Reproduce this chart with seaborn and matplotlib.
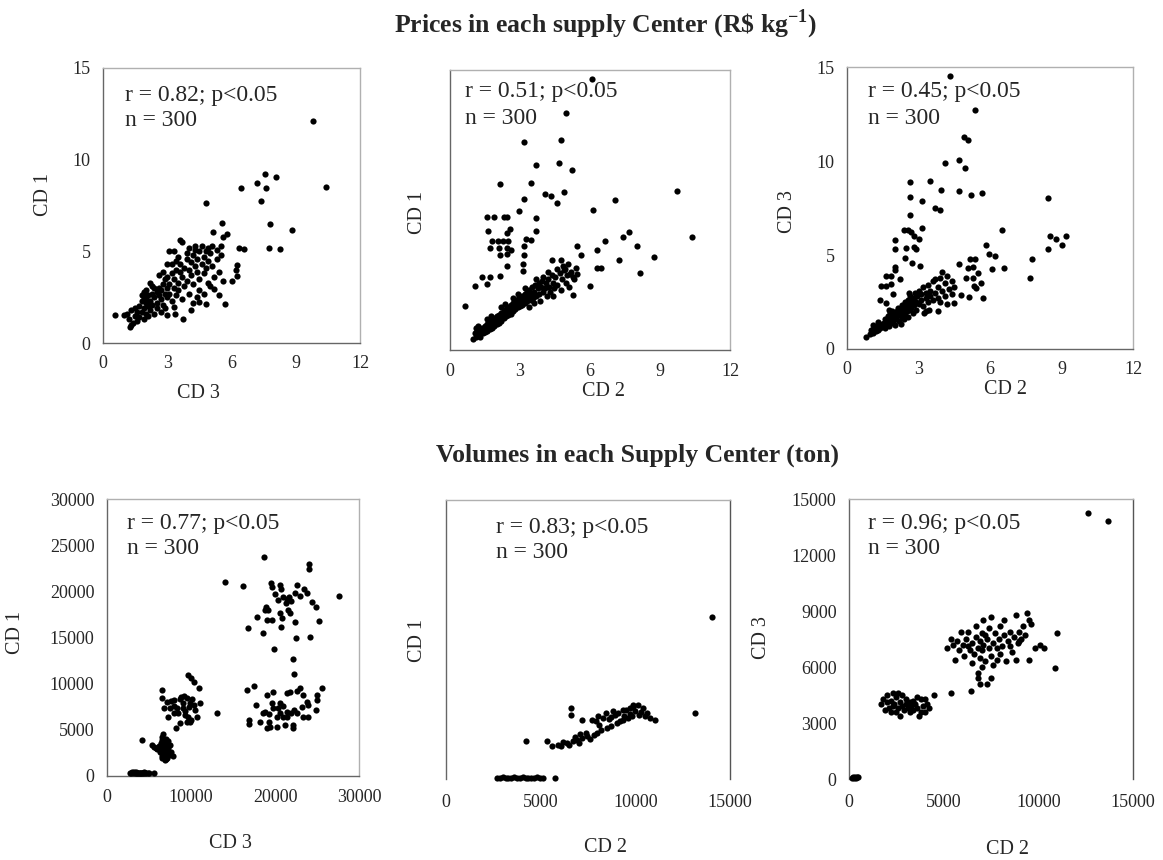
import numpy as np
import pandas as pd
import matplotlib
matplotlib.use("Agg")
import matplotlib.pyplot as plt
import seaborn as sns

# ---------------- data ----------------
# Panel 1: prices, CD 3 (x) vs CD 1 (y)
p1_x = [9.8, 10.4, 7.56, 8.1, 7.2, 6.44, 7.6, 7.37, 4.8, 7.78, 8.83, 5.57, 5.13, 5.79, 7.75, 8.27, 6.36, 6.6, 6.25, 6.22, 6.25, 6.02, 5.68, 5.16, 4.46, 4.82, 4.1, 3.72, 2.99, 3.37, 3.3, 1.0, 1.28, 0.58,
        1.1, 1.2, 1.3, 1.4, 1.5, 1.3, 1.5, 1.6, 1.6,
        1.7, 1.7, 1.8, 1.8, 1.9, 1.9, 2.0, 2.0, 1.8, 1.9, 2.0, 1.9, 2.0,
        2.1, 2.1, 2.2, 2.2, 2.3, 2.3, 2.4, 2.4, 2.5, 2.5, 2.2, 2.4, 2.5, 2.1, 2.3,
        2.6, 2.6, 2.7, 2.7, 2.8, 2.8, 2.9, 2.9, 3.0, 3.0, 2.6, 2.8, 3.0, 2.7, 2.9, 3.0,
        3.1, 3.1, 3.2, 3.2, 3.3, 3.3, 3.4, 3.4, 3.5, 3.5, 3.1, 3.3, 3.2, 3.4, 3.5,
        3.6, 3.6, 3.7, 3.7, 3.8, 3.8, 3.9, 3.9, 4.0, 4.0, 3.6, 4.0, 3.7, 3.9,
        4.1, 4.1, 4.2, 4.2, 4.3, 4.3, 4.4, 4.4, 4.5, 4.5, 4.2, 4.4, 4.3, 4.5,
        4.6, 4.6, 4.7, 4.7, 4.8, 4.8, 4.9, 4.9, 5.0, 5.0, 4.7, 4.9,
        5.1, 5.1, 5.2, 5.3, 5.3, 5.4, 5.5, 5.5, 5.6, 5.6, 5.4]
p1_y = [12.1, 8.5, 9.2, 9.07, 8.74, 8.43, 8.43, 7.74, 7.65, 6.48, 6.16, 6.56, 6.07, 5.94, 5.19, 5.12, 5.19, 5.12, 4.24, 3.97, 3.64, 3.37, 2.15, 2.97, 2.24, 2.15, 1.82, 1.33, 1.51, 1.6, 1.97, 1.55, 0.87, 1.55,
        1.6, 1.3, 1.8, 1.1, 1.5, 1.0, 1.9, 1.2, 1.7,
        2.0, 1.4, 2.3, 1.7, 2.5, 1.9, 2.2, 1.6, 2.6, 2.8, 2.4, 1.3, 2.9,
        2.0, 2.6, 2.3, 1.8, 2.7, 2.1, 2.5, 3.0, 2.2, 2.8, 3.3, 1.6, 1.9, 1.5, 3.1,
        2.6, 3.0, 2.4, 2.9, 3.2, 2.1, 2.7, 3.5, 3.0, 2.5, 3.7, 3.9, 4.3, 1.7, 1.9, 3.6,
        3.2, 2.7, 3.8, 4.3, 3.0, 3.5, 4.0, 2.6, 3.3, 4.7, 5.0, 5.0, 2.3, 4.5, 2.9,
        3.9, 4.3, 3.6, 5.5, 4.1, 3.1, 4.6, 3.4, 4.0, 5.2, 5.6, 2.7, 2.4, 4.9,
        4.4, 3.7, 4.8, 3.2, 5.1, 4.2, 3.9, 4.6, 5.0, 3.5, 2.2, 2.5, 5.3, 2.9,
        4.3, 5.3, 3.8, 4.7, 5.0, 4.1, 3.3, 4.5, 4.9, 3.1, 2.7, 5.2,
        4.2, 5.3, 3.6, 4.6, 5.1, 3.9, 5.3, 4.8, 5.8, 3.4, 2.6]

# Panel 2: prices, CD 2 (x) vs CD 1 (y)
p2_x = [1.0, 1.05, 1.1, 1.15, 1.2, 1.25, 1.3, 1.3, 1.35, 1.4, 1.45, 1.5, 1.5, 1.2, 1.1,
        1.55, 1.6, 1.6, 1.65, 1.7, 1.7, 1.75, 1.8, 1.8, 1.85, 1.9, 1.9, 1.95, 2.0, 2.0, 1.75, 1.6,
        2.05, 2.1, 2.1, 2.15, 2.2, 2.2, 2.25, 2.3, 2.3, 2.35, 2.4, 2.4, 2.45, 2.5, 2.5, 2.2, 2.35,
        2.55, 2.6, 2.6, 2.65, 2.7, 2.7, 2.75, 2.8, 2.8, 2.85, 2.9, 2.9, 2.95, 3.0, 3.0, 2.7, 2.9,
        3.05, 3.1, 3.1, 3.15, 3.2, 3.2, 3.25, 3.3, 3.3, 3.35, 3.4, 3.45, 3.5, 3.5, 3.2, 3.4,
        3.55, 3.6, 3.65, 3.7, 3.75, 3.8, 3.8, 3.85, 3.9, 3.95, 4.0, 4.0, 3.7, 3.6,
        4.05, 4.1, 4.15, 4.2, 4.25, 4.3, 4.35, 4.4, 4.45, 4.5, 4.2, 4.4,
        4.6, 4.7, 4.75, 4.8, 4.9, 4.95, 5.0, 5.1, 5.2, 5.3, 4.85, 5.05,
        6.07, 4.97, 3.17, 4.74, 3.67, 4.66, 5.24, 2.14, 3.46, 4.06, 4.33, 4.57, 4.89, 3.17, 2.94, 6.11, 7.09, 9.71, 10.36, 3.69, 3.69, 3.26, 3.46, 3.17,
        1.6, 1.89, 2.31, 2.46, 1.64, 2.57, 2.43, 1.79, 2.07, 2.29, 2.5, 1.71, 2.11, 2.43, 2.6, 2.14, 2.43, 2.43, 2.14, 1.71, 1.36, 1.07, 1.57, 0.64, 3.17, 3.14, 3.14,
        5.43, 6.29, 6.66, 7.43, 7.66, 8.0, 7.24, 8.14, 8.76, 5.63, 6.29, 6.46, 6.01, 5.26, 4.36, 4.74, 4.57, 4.94, 5.39, 5.43, 5.14, 5.29]
p2_y = [0.6, 0.9, 0.7, 1.0, 0.8, 1.1, 0.7, 1.0, 1.2, 0.9, 1.1, 1.3, 0.95, 1.3, 1.2,
        1.1, 1.4, 1.0, 1.25, 1.5, 1.15, 1.35, 1.6, 1.2, 1.45, 1.7, 1.3, 1.55, 1.8, 1.4, 1.8, 1.65,
        1.6, 1.9, 1.45, 1.75, 2.0, 1.55, 1.85, 2.1, 1.7, 1.95, 2.2, 1.8, 2.05, 2.3, 1.9, 2.3, 2.45,
        2.1, 2.4, 1.95, 2.25, 2.5, 2.1, 2.35, 2.6, 2.2, 2.45, 2.75, 2.3, 2.55, 2.8, 2.35, 2.8, 3.0,
        2.6, 2.9, 2.4, 2.7, 3.0, 2.5, 2.8, 3.1, 2.6, 2.9, 3.2, 2.7, 3.0, 3.4, 3.3, 2.3,
        2.8, 3.1, 3.5, 2.9, 3.3, 3.6, 3.0, 2.6, 3.4, 3.7, 3.1, 3.9, 3.8, 2.5,
        3.3, 3.6, 2.9, 3.8, 3.4, 3.1, 4.0, 3.6, 3.3, 3.9, 4.2, 2.9,
        3.5, 4.1, 3.2, 3.8, 4.3, 3.6, 4.0, 3.4, 4.2, 3.8, 4.5, 4.6,
        14.5, 12.7, 11.15, 11.27, 9.9, 10.0, 9.66, 8.88, 8.94, 8.35, 8.23, 7.88, 8.48, 8.09, 7.43, 7.5, 8.04, 8.5, 6.04, 7.08, 6.37, 5.93, 5.88, 5.56,
        7.1, 7.1, 7.1, 7.1, 6.37, 6.46, 6.25, 5.84, 5.84, 5.84, 5.84, 5.45, 5.45, 5.45, 5.35, 5.1, 5.13, 4.5, 3.98, 3.9, 3.9, 3.45, 3.54, 2.34, 5.1, 4.6, 4.25,
        5.58, 5.35, 5.84, 6.07, 6.34, 5.56, 4.81, 4.1, 4.96, 5.1, 4.37, 4.37, 3.45, 2.92, 4.81, 4.81, 4.34, 4.34, 4.4, 4.07, 4.07, 3.9]

# Panel 3: prices, CD 2 (x) vs CD 3 (y)
p3_x = [0.8, 0.95, 1.0, 1.1, 1.15, 1.2, 1.25, 1.3, 1.35, 1.4, 1.45, 1.5, 1.1, 1.3,
        1.55, 1.6, 1.6, 1.65, 1.7, 1.7, 1.75, 1.8, 1.8, 1.85, 1.9, 1.9, 1.95, 2.0, 2.0, 1.75,
        2.05, 2.1, 2.1, 2.15, 2.2, 2.2, 2.25, 2.3, 2.3, 2.35, 2.4, 2.4, 2.45, 2.5, 2.5, 2.25, 2.45,
        2.55, 2.6, 2.6, 2.65, 2.7, 2.7, 2.75, 2.8, 2.8, 2.85, 2.9, 2.9, 2.95, 3.0, 3.0, 2.6, 2.55,
        3.1, 3.1, 3.2, 3.2, 3.3, 3.3, 3.4, 3.4, 3.5, 3.5, 3.6, 3.6, 3.25, 3.45,
        3.7, 3.8, 3.8, 3.9, 3.9, 4.0, 4.1, 4.1, 4.2, 4.3, 4.4, 4.4, 4.5, 4.2, 3.7, 4.0,
        4.31, 5.36, 4.9, 5.08, 4.1, 4.7, 4.94, 2.66, 3.5, 3.96, 4.7, 5.22, 5.68, 3.16, 2.66, 3.68, 3.89, 2.63, 3.13, 2.4, 2.55, 2.69, 2.83, 3.02, 2.0, 2.0, 2.49, 2.8, 2.88, 2.43, 2.74, 3.05, 2.0, 2.0, 1.65, 1.86, 2.21, 1.44, 1.65, 1.86, 1.37, 1.93, 1.62,
        8.45, 8.5, 8.75, 9.03, 9.2, 8.45, 7.78, 7.66, 6.5, 5.82, 5.96, 6.2, 6.1, 6.59, 5.71, 4.7, 5.15, 5.36, 5.08, 5.29, 5.5, 5.01, 5.29, 5.64, 5.43, 4.77, 5.12, 5.31, 4.49, 3.82, 3.33]
p3_y = [0.65, 0.8, 1.0, 0.85, 1.15, 0.95, 1.2, 1.0, 1.3, 1.1, 1.35, 1.2, 1.25, 1.45,
        1.4, 1.1, 1.6, 1.3, 1.75, 1.45, 1.2, 1.6, 1.9, 1.4, 1.7, 2.0, 1.5, 1.85, 1.3, 2.05,
        1.6, 2.0, 1.75, 2.2, 1.5, 1.9, 2.1, 1.7, 2.35, 1.95, 2.2, 1.6, 2.5, 2.0, 2.3, 1.35, 1.8,
        2.6, 2.1, 2.4, 2.8, 2.2, 2.55, 1.9, 2.7, 2.35, 3.0, 2.5, 2.1, 2.8, 2.4, 3.1, 3.0, 1.7,
        2.6, 2.9, 3.3, 2.3, 2.7, 3.0, 2.5, 3.4, 2.8, 3.1, 2.6, 3.6, 1.9, 2.1,
        3.0, 2.7, 3.3, 3.8, 2.5, 3.1, 2.8, 3.5, 3.9, 3.2, 2.9, 3.6, 3.3, 2.4, 3.7, 4.1,
        14.5, 12.7, 11.26, 11.13, 9.9, 10.04, 9.63, 8.87, 8.92, 8.44, 8.42, 8.21, 8.3, 7.89, 8.07, 7.5, 7.41, 7.11, 6.44, 6.35, 6.35, 6.22, 6.0, 5.85, 5.82, 5.32, 5.39, 5.42, 5.3, 4.84, 4.57, 4.4, 4.34, 4.2, 3.87, 3.87, 3.73, 3.33, 3.37, 3.48, 2.62, 2.93, 2.45,
        8.03, 6.03, 5.85, 5.53, 6.03, 5.32, 4.79, 3.78, 6.35, 5.55, 5.05, 4.93, 4.26, 4.31, 2.71, 4.54, 4.79, 4.79, 4.31, 4.37, 4.05, 3.78, 3.78, 3.51, 3.24, 2.87, 2.75, 3.33, 2.45, 2.0, 2.0]

# Panel 4: volumes, CD 3 (x) vs CD 1 (y)
p4_x = [2700, 2850, 3000, 3150, 3300, 3400, 3500, 3600, 3700, 3800, 3900, 4000, 4100, 4250, 4400, 4550, 4700, 4850, 5000, 5650, 3200, 4300,
        4150,
        5400, 5600, 5800, 6000, 6200, 6300, 6400, 6500, 6600, 6600, 6700, 6700, 6800, 6800, 6900, 6900, 7000, 7000, 7100, 7100, 7200, 7200, 7300, 7400, 7500, 7600, 7800, 6500, 6300, 6900, 7050, 6600, 7300,
        6530, 6530, 6730, 7130, 7920, 8710, 7520, 8320, 9030, 8710, 7920, 9310, 9700, 9980, 10300, 11010, 11090, 9500, 9900, 10490, 10690, 9900, 13150,
        8000, 8500, 9000, 9300, 9600, 9800, 10000, 9500, 8800, 9200, 10100, 10400, 7600, 7300, 8200,
        16630, 17500, 17740, 16950, 16950, 18220, 19010, 19400, 19250, 20200, 21190, 22100, 22180, 19320, 19800, 20590, 20910, 19010, 19720, 21380, 21780, 22570, 22970, 23280, 21860, 22260, 22570, 23170, 23760, 23960, 23960, 24870, 24950, 25540, 24950, 23280, 18810, 18610, 20390, 20990, 21380, 20200, 19600, 21380, 20590,
        19480, 19600, 20590, 20710, 22570, 23440, 22970, 24350, 24870, 25260, 24160, 22490, 22370, 21780, 21270, 21460, 20910, 20390, 20000, 19210, 18930, 18810, 19010, 18530, 16830, 17820, 19600, 20590, 20790, 20670, 21700, 21860, 21580, 23760, 22370,
        14100, 16160, 18700, 24080, 24000, 27640, 22100, 22250, 19880]
p4_y = [350, 300, 380, 320, 360, 300, 390, 330, 350, 300, 370, 320, 360, 300, 380, 330, 350, 310, 360, 300, 400, 280,
        3950,
        3400, 3100, 3000, 2900, 3300, 2600, 3600, 2200, 2800, 4200, 4600, 3100, 2500, 1900, 3500, 2200, 2900, 4000, 2400, 3300, 2000, 2700, 3000, 2300, 3400, 2600, 2200, 3900, 3100, 1700, 1800, 2000, 3800,
        9310, 8410, 7330, 8050, 8230, 8300, 7330, 7330, 7330, 5700, 6790, 6600, 10940, 10580, 10220, 9490, 7870, 8410, 7940, 7150, 6430, 5880, 6860,
        7600, 6800, 7900, 7000, 6400, 7500, 6100, 5800, 8600, 8700, 8300, 7700, 8100, 6400, 5200,
        9310, 9750, 7690, 6060, 5630, 5880, 5160, 5340, 5880, 5340, 5520, 5520, 5160, 6710, 7330, 7940, 7580, 8770, 9130, 8950, 9130, 9240, 9490, 8770, 6790, 7150, 6790, 7510, 8050, 7690, 6430, 7150, 8770, 9490, 8230, 6360, 6970, 6790, 7330, 6430, 6430, 6360, 7870, 6970, 6790,
        20940, 20500, 20690, 20220, 20690, 20220, 19490, 18880, 18340, 16820, 15090, 14910, 16710, 17620, 18770, 19170, 19420, 19060, 19670, 17980, 18340, 17980, 16890, 15450, 15990, 17260, 16890, 17620, 17080, 16170, 19420, 18990, 17980, 19780, 19780,
        20970, 20610, 23750, 22920, 22420, 19530, 12640, 11010, 13720]

# Panel 5: volumes, CD 2 (x) vs CD 1 (y)
p5_x = [2700, 2850, 3000, 3150, 3300, 3450, 3600, 3750, 3900, 4050, 4200, 4350, 4500, 4650, 4800, 4950, 5100, 5770,
        4220, 5320, 5580, 6580, 6580,
        5930, 6100, 6370, 6500, 6700, 6900, 7000, 7200, 7430, 7600, 7800, 7960, 8200, 8480, 8700, 9010, 9200, 9360, 9600, 9800,
        7160, 7690, 8040, 8450, 8830, 9360, 9720, 9890, 10160, 10420, 10600, 11040,
        7400, 7900, 8300, 8600, 8900, 9100, 9400, 9500, 9700, 10000, 10200, 10300, 10500, 10800, 6200, 6800, 7100, 8100, 9900, 8700,
        13150, 14060]
p5_y = [150, 120, 180, 140, 160, 130, 170, 150, 120, 180, 150, 130, 160, 140, 170, 120, 150, 80,
        4050, 4050, 3510, 7630, 6900,
        3690, 3500, 3870, 3700, 4100, 4220, 3900, 4400, 4580, 4300, 4700, 4940, 5300, 5480, 5700, 6010, 6200, 6370, 6600, 6800,
        6300, 6370, 6730, 7090, 7270, 7450, 7630, 7980, 7980, 7630, 7090, 6300,
        4900, 6200, 6600, 6400, 6900, 7100, 6800, 7400, 7000, 7300, 6900, 7200, 6800, 6600, 4000, 4500, 4800, 5800, 7700, 6700,
        7090, 17400]

# Panel 6: volumes, CD 2 (x) vs CD 3 (y)
p6_x = [150, 200, 250, 300, 350, 420, 480,
        1700, 1800, 1900, 2000, 2000, 2100, 2200, 2300, 2300, 2400, 2500, 2500, 2600, 2700, 2700, 2800, 2800, 2900, 3000, 3000, 3100, 3200, 3200, 3300, 3400, 3400, 3500, 3600, 3700, 3800, 3800, 3900, 4000, 4000, 4100, 4200, 4500, 2200, 3600, 2600,
        5370, 6470, 6800, 6800, 6900, 7300, 7500,
        5200, 5400, 5500, 5600, 5700, 5800, 5900, 6000, 6100, 6200, 6300, 6400, 6500, 6600, 6700, 6700, 6800, 6900, 6900, 7000, 7000, 7100, 7100, 7200, 7300, 7400, 7400, 7500, 7500, 7600, 7600, 7700, 7800, 7800, 7900, 8000, 8000, 8100, 8200, 8200, 8300, 8400, 8500, 8600, 8700, 8800, 8800, 8900, 9000, 9100, 9200, 9300, 9400, 9500, 9500, 9600, 9800, 10100, 10300, 10870, 10960, 6500, 7000, 6300, 7200, 8500, 9000,
        12630, 13690]
p6_y = [80, 120, 60, 100, 70, 110, 90,
        4000, 4300, 3700, 4100, 4500, 3800, 4200, 3900, 4600, 4000, 4400, 3600, 3800, 4100, 3400, 3900, 4500, 3700, 4000, 4300, 3800, 4100, 3600, 3900, 4200, 3700, 4000, 3800, 3400, 4300, 3600, 3900, 4300, 3600, 4000, 3800, 4500, 3600, 4400, 4600,
        4600, 4690, 5700, 5400, 5100, 5100, 5400,
        7000, 7500, 7200, 6400, 7400, 6900, 7900, 7200, 6600, 7500, 7900, 6900, 7300, 6700, 8200, 7600, 7000, 7400, 6500, 7800, 6900, 8500, 7200, 6300, 7500, 7000, 8100, 8700, 6600, 7300, 6100, 7800, 7000, 6400, 7500, 8200, 6700, 7100, 8500, 7700, 6300, 7400, 7900, 6800, 7600, 8800, 6400, 7300, 7900, 7500, 8200, 7700, 8900, 8500, 6400, 8300, 7000, 7200, 7000, 5940, 7810, 6200, 6000, 7100, 7700, 7100, 7400,
        14270, 13840]

titles = [r"Prices in each supply Center (R\$ kg$^{\mathbf{-1}}$)", "Volumes in each Supply Center (ton)"]
stats = ["r = 0.82; p<0.05", "r = 0.51; p<0.05", "r = 0.45; p<0.05",
         "r = 0.77; p<0.05", "r = 0.83; p<0.05", "r = 0.96; p<0.05"]
n_text = "n = 300"
x_labels = ["CD 3", "CD 2", "CD 2", "CD 3", "CD 2", "CD 2"]
y_labels = ["CD 1", "CD 1", "CD 3", "CD 1", "CD 1", "CD 3"]

price_xticks = [0, 3, 6, 9, 12]
price_yticks = [0, 5, 10, 15]
p4_ticks_x = [0, 10000, 20000, 30000]
p4_ticks_y = [0, 5000, 10000, 15000, 20000, 25000, 30000]
p5_ticks_x = [0, 5000, 10000, 15000]
p5_ticks_y = [0, 5000, 10000, 15000, 20000, 25000, 30000]
p6_ticks_x = [0, 5000, 10000, 15000]
p6_ticks_y = [0, 3000, 6000, 9000, 12000, 15000]

# ---------------- styling ----------------
sns.set_style("white")
plt.rcParams['font.family'] = ['Liberation Serif', 'DejaVu Serif']
plt.rcParams['mathtext.fontset'] = 'custom'
plt.rcParams['mathtext.rm'] = 'Liberation Serif'
plt.rcParams['mathtext.bf'] = 'Liberation Serif:bold'

W, H = 1163, 860
fig = plt.figure(figsize=(W / 100, H / 100), dpi=100)
fig.patch.set_facecolor('white')

def rect(l, t, r, b):
    return [l / W, 1 - b / H, (r - l) / W, (b - t) / H]

def fx(px):
    return px / W

def fy(py):
    return 1 - py / H

panels = [
    dict(x=p1_x, y=p1_y, r=rect(103, 68, 360, 343), xl=(0, 12), yl=(0, 15), xt=price_xticks, yt=price_yticks, ylab=True, bottom=True,
         txt=(125, 95), xlab=(198, 393), ylab_pos=(44, 195), xpad=9),
    dict(x=p2_x, y=p2_y, r=rect(450, 70, 730, 350), xl=(0, 12), yl=(0, 15), xt=price_xticks, yt=price_yticks, ylab=False, bottom=True,
         txt=(465, 92), xlab=(604, 391), ylab_pos=(417, 212), xpad=9),
    dict(x=p3_x, y=p3_y, r=rect(847, 67, 1133, 349), xl=(0, 12), yl=(0, 15), xt=price_xticks, yt=price_yticks, ylab=True, bottom=True,
         txt=(868, 92), xlab=(1005, 389), ylab_pos=(788, 212), xpad=9),
    dict(x=p4_x, y=p4_y, r=rect(107, 499, 359, 776), xl=(0, 30000), yl=(0, 30000), xt=p4_ticks_x, yt=p4_ticks_y, ylab=True, bottom=True,
         txt=(127, 523), xlab=(230, 843), ylab_pos=(16, 633), xpad=9),
    dict(x=p5_x, y=p5_y, r=rect(446, 500, 730, 779), xl=(0, 15000), yl=(0, 30000), xt=p5_ticks_x, yt=p5_ticks_y, ylab=False, bottom=False,
         txt=(496, 527), xlab=(605, 847), ylab_pos=(417, 640), xpad=11),
    dict(x=p6_x, y=p6_y, r=rect(849, 499, 1133, 779), xl=(0, 15000), yl=(0, 15000), xt=p6_ticks_x, yt=p6_ticks_y, ylab=True, bottom=False,
         txt=(868, 523), xlab=(1007, 849), ylab_pos=(762, 638), xpad=11),
]

for i, p in enumerate(panels):
    ax = fig.add_axes(p['r'])
    df = pd.DataFrame({'x': p['x'], 'y': p['y']})
    sns.scatterplot(data=df, x='x', y='y', ax=ax, color='black', s=20, linewidth=0, clip_on=False, zorder=3)
    ax.set_xlim(*p['xl'])
    ax.set_ylim(*p['yl'])
    ax.set_xticks(p['xt'])
    ax.set_yticks(p['yt'])
    ax.set_xticklabels([str(t) for t in p['xt']], fontsize=13)
    if p['ylab']:
        ax.set_yticklabels([str(t) for t in p['yt']], fontsize=13)
    else:
        ax.set_yticklabels([])
    ax.set_xlabel('')
    ax.set_ylabel('')
    ax.tick_params(axis='x', direction='in', length=3, width=0.8, color='#666666', pad=p['xpad'])
    ax.tick_params(axis='y', direction='out', length=3, width=0.8, color='#888888', pad=6)
    for side in ['left', 'bottom']:
        ax.spines[side].set_color('#666666')
        ax.spines[side].set_linewidth(1.0)
    for side in ['top', 'right']:
        ax.spines[side].set_color('#b0b0b0')
        ax.spines[side].set_linewidth(1.0)
    if not p['bottom']:
        ax.spines['bottom'].set_visible(False)
        ax.spines['right'].set_color('#555555')
    ax.set_facecolor('white')
    tx, ty = p['txt']
    fig.text(fx(tx), fy(ty), stats[i], fontsize=17, va='center', ha='left')
    fig.text(fx(tx), fy(ty + 26), n_text, fontsize=17, va='center', ha='left')
    lx, ly = p['xlab']
    fig.text(fx(lx), fy(ly), x_labels[i], fontsize=14.5, ha='center', va='center')
    yx, yy = p['ylab_pos']
    fig.text(fx(yx), fy(yy), y_labels[i], fontsize=14.5, ha='center', va='center', rotation=90)

fig.text(fx(606), fy(24), titles[0], fontsize=18.5, fontweight='bold', ha='center', va='center')
fig.text(fx(637), fy(455), titles[1], fontsize=18.5, fontweight='bold', ha='center', va='center')

fig.savefig('out.png', dpi=100, facecolor='white')
